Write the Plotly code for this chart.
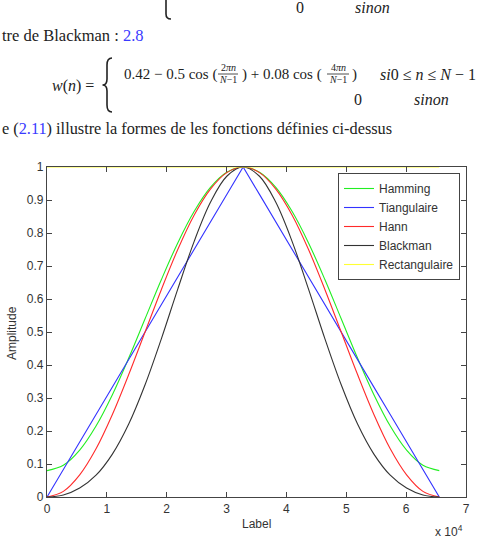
import plotly.graph_objects as go

# ---------------- data ----------------
n_samples = [0, 2731, 5461, 8192, 10923, 13653, 16384, 19115, 21845, 24576, 27307, 30037, 32768,
             35498, 38229, 40960, 43691, 46421, 49152, 51883, 54613, 57344, 60075, 62805, 65535]
hamming = [0.08, 0.096, 0.142, 0.215, 0.31, 0.421, 0.54, 0.659, 0.77, 0.865, 0.938, 0.984, 1.0,
           0.984, 0.938, 0.865, 0.77, 0.659, 0.54, 0.421, 0.31, 0.215, 0.142, 0.096, 0.08]
triang = [0.0, 0.083, 0.167, 0.25, 0.333, 0.417, 0.5, 0.583, 0.667, 0.75, 0.833, 0.917, 1.0,
          0.917, 0.833, 0.75, 0.667, 0.583, 0.5, 0.417, 0.333, 0.25, 0.167, 0.083, 0.0]
hann = [0.0, 0.017, 0.067, 0.146, 0.25, 0.371, 0.5, 0.629, 0.75, 0.854, 0.933, 0.983, 1.0,
        0.983, 0.933, 0.854, 0.75, 0.629, 0.5, 0.371, 0.25, 0.146, 0.067, 0.017, 0.0]
blackman = [0.0, 0.006, 0.027, 0.066, 0.13, 0.221, 0.34, 0.48, 0.63, 0.774, 0.893, 0.972, 1.0,
            0.972, 0.893, 0.774, 0.63, 0.48, 0.34, 0.221, 0.13, 0.066, 0.027, 0.006, 0.0]
rect = [1.0] * len(n_samples)

series_names = ["Hamming", "Tiangulaire", "Hann", "Blackman", "Rectangulaire"]
series_values = [hamming, triang, hann, blackman, rect]
series_colors = ["#22ee22", "#3333ff", "#ff2a2a", "#333333", "#ffff33"]
series_shapes = ["spline", "linear", "spline", "spline", "linear"]

x_tickvals = [0, 10000, 20000, 30000, 40000, 50000, 60000, 70000]
x_ticktext = ["0", "1", "2", "3", "4", "5", "6", "7"]
y_tickvals = [0, 0.1, 0.2, 0.3, 0.4, 0.5, 0.6, 0.7, 0.8, 0.9, 1.0]
y_ticktext = ["0", "0.1", "0.2", "0.3", "0.4", "0.5", "0.6", "0.7", "0.8", "0.9", "1"]

# ---------------- layout geometry ----------------
WIDTH, HEIGHT = 504, 547
L, R, T, B = 47, 466, 167, 497
PW, PH = R - L, B - T


def px(x):
    return (x - L) / PW


def py(y):
    return (B - y) / PH


fig = go.Figure()
for name, vals, col, shp in zip(series_names, series_values, series_colors, series_shapes):
    fig.add_trace(go.Scatter(x=n_samples, y=vals, mode="lines", name=name,
                             line=dict(color=col, width=1.1, shape=shp)))

axis_col = "#444444"
tick_font = dict(family="Liberation Sans, Arial, sans-serif", size=12, color="#333333")

fig.update_xaxes(range=[0, 70000], tickvals=x_tickvals, ticktext=x_ticktext,
                 showgrid=False, zeroline=False, showline=True, linecolor=axis_col, linewidth=1.2,
                 mirror="ticks", ticks="inside", ticklen=5, tickcolor=axis_col, tickfont=tick_font)
fig.update_yaxes(range=[0, 1], tickvals=y_tickvals, ticktext=y_ticktext,
                 showgrid=False, zeroline=False, showline=True, linecolor=axis_col, linewidth=1.2,
                 mirror="ticks", ticks="inside", ticklen=5, tickcolor=axis_col, tickfont=tick_font)

serif = "Liberation Serif, Times New Roman, serif"
txt_col = "#222222"
blue = "#3a3aff"
ann = []


def add_text(text, x, y, size=15.5, xanchor="left", color=txt_col, family=serif, angle=0):
    ann.append(dict(text=text, x=px(x), y=py(y), xref="paper", yref="paper",
                    xanchor=xanchor, yanchor="middle", showarrow=False, textangle=angle,
                    font=dict(family=family, size=size, color=color)))


# top of the page (previous equation's tail)
add_text("0", 300, 8, size=16, xanchor="center")
add_text("<i>sinon</i>", 372, 8, size=16, xanchor="center")
add_text("tre de Blackman : <span style='color:%s'>2.8</span>" % blue, 0, 35, size=16.5)

# Blackman equation
add_text("<i>w</i>(<i>n</i>) =", 50, 86, size=16)
add_text("0.42 − 0.5 cos (", 122, 74, size=15)
add_text("2<i>πn</i>", 228, 68, size=10, xanchor="center")
add_text("<i>N</i>−1", 228, 80, size=10, xanchor="center")
add_text(") + 0.08 cos (", 240, 74, size=15)
add_text("4<i>πn</i>", 338, 68, size=10, xanchor="center")
add_text("<i>N</i>−1", 338, 80, size=10, xanchor="center")
add_text(")", 350, 74, size=15)
add_text("<i>si</i>0 ≤ <i>n</i> ≤ <i>N</i> − 1", 378, 74, size=16)
add_text("0", 358, 100, size=16, xanchor="center")
add_text("<i>sinon</i>", 431, 100, size=16, xanchor="center")

add_text("e (<span style='color:%s'>2.11</span>) illustre la formes de les fonctions définies ci-dessus" % blue,
         0, 129, size=16.3)

# axis labels
sans = "Liberation Sans, Arial, sans-serif"
add_text("Amplitude", 12, 333, size=12, xanchor="center", family=sans, color="#333333", angle=-90)
add_text("Label", 256, 524, size=12, xanchor="center", family=sans, color="#333333")
add_text("x 10<sup>4</sup>", 465, 531, size=12, xanchor="right", family=sans, color="#333333")

fig.update_layout(annotations=ann)


def P(x, y):
    return "%.5f,%.5f" % (px(x), py(y))


brace = ("M " + P(112, 58) + " Q " + P(107, 58) + " " + P(107, 65) + " L " + P(107, 79) +
         " Q " + P(107, 85) + " " + P(102.5, 85) + " Q " + P(107, 85) + " " + P(107, 91) +
         " L " + P(107, 105) + " Q " + P(107, 112) + " " + P(112, 112))
hook = "M " + P(166, 0) + " L " + P(166, 14) + " Q " + P(166, 19) + " " + P(171, 19)

shapes = [
    dict(type="path", path=brace, xref="paper", yref="paper", line=dict(color=txt_col, width=1.6)),
    dict(type="path", path=hook, xref="paper", yref="paper", line=dict(color=txt_col, width=1.6)),
    dict(type="line", xref="paper", yref="paper", x0=px(218), x1=px(238), y0=py(74), y1=py(74),
         line=dict(color=txt_col, width=0.8)),
    dict(type="line", xref="paper", yref="paper", x0=px(327), x1=px(349), y0=py(74), y1=py(74),
         line=dict(color=txt_col, width=0.8)),
]
fig.update_layout(shapes=shapes)

fig.update_layout(
    width=WIDTH, height=HEIGHT,
    margin=dict(l=L, r=WIDTH - R, t=T, b=HEIGHT - B, autoexpand=False),
    paper_bgcolor="white", plot_bgcolor="white",
    showlegend=True,
    legend=dict(x=px(460), y=py(173), xanchor="right", yanchor="top",
                bgcolor="white", bordercolor=axis_col, borderwidth=1,
                font=dict(family=sans, size=12, color="#333333"),
                tracegroupgap=0, itemwidth=30),
)

fig.write_html("out.html")
